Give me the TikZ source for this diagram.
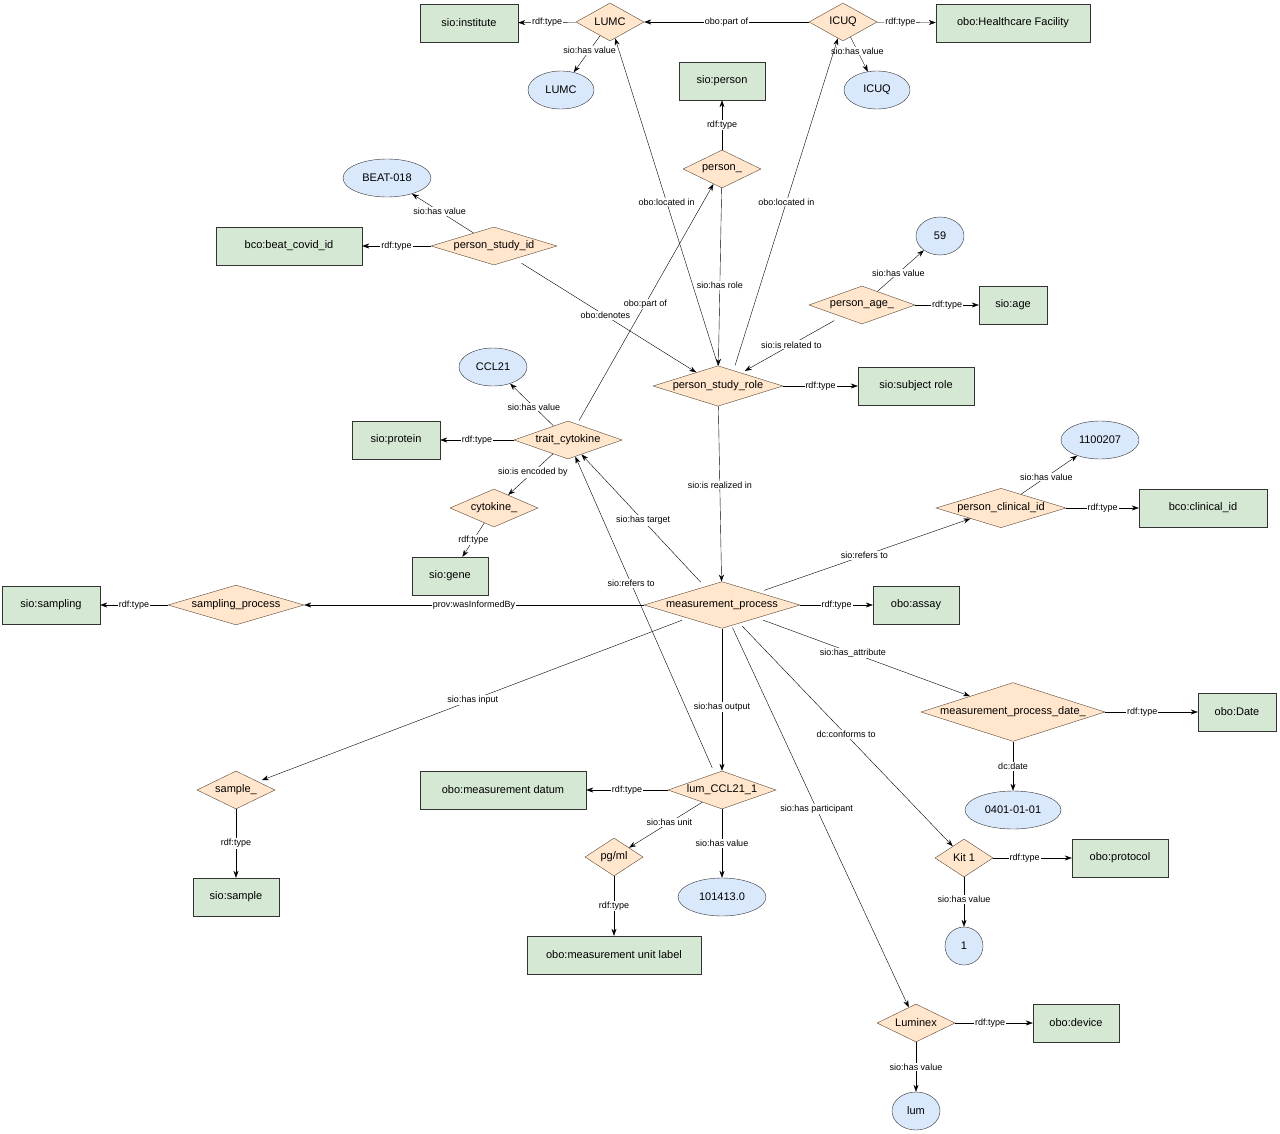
\documentclass[tikz,border=0pt]{standalone}
\usepackage{fontspec}
\setmainfont{Liberation Sans}
\usetikzlibrary{shapes.geometric,arrows.meta}
\begin{document}
\begin{tikzpicture}[x=1pt,y=-1pt,
 R/.style={draw=black!80,fill=green!10!gray!20!white,fill={rgb,255:red,213;green,232;blue,212},minimum height=38pt,inner sep=0pt,font=\fontsize{11}{13}\selectfont},
 D/.style={diamond,aspect=3,draw={rgb,255:red,90;green,70;blue,50},fill={rgb,255:red,255;green,230;blue,204},minimum height=38pt,inner sep=0pt,font=\fontsize{11}{13}\selectfont},
 E/.style={ellipse,draw=black!80,fill={rgb,255:red,218;green,232;blue,252},minimum height=38pt,inner sep=0pt,font=\fontsize{11}{13}\selectfont},
 a/.style={-{Stealth[length=7pt,width=5pt]},black},
 l/.style={fill=white,inner sep=1pt,font=\fontsize{9}{10}\selectfont}]
\useasboundingbox (0,0) rectangle (1280,1134);
\node[R,minimum width=98pt] (inst) at (469,23) {sio:institute};
\node[D,minimum width=68pt] (lumc) at (610,22) {LUMC};
\node[D,minimum width=68pt] (icuq) at (843,22) {ICUQ};
\node[R,minimum width=154pt] (hf) at (1013,23) {obo:Healthcare Facility};
\node[E,minimum width=66pt] (lumcv) at (561,90) {LUMC};
\node[E,minimum width=66pt] (icuqv) at (877,90) {ICUQ};
\node[R,minimum width=86pt] (person) at (722,81) {sio:person};
\node[D,minimum width=78pt] (p) at (722,169) {person\_};
\node[E,minimum width=88pt] (beat) at (387,178) {BEAT-018};
\node[R,minimum width=146pt] (bcid) at (289,246) {bco:beat\_covid\_id};
\node[D,minimum width=126pt] (psid) at (494,246) {person\_study\_id};
\node[E,minimum width=48pt] (v59) at (940,236) {59};
\node[D,minimum width=106pt] (page) at (862,305) {person\_age\_};
\node[R,minimum width=68pt] (age) at (1013,305) {sio:age};
\node[D,minimum width=130pt] (psr) at (718,386) {person\_study\_role};
\node[R,minimum width=116pt] (subj) at (916,386) {sio:subject role};
\node[E,minimum width=68pt] (ccl) at (493,367) {CCL21};
\node[R,minimum width=88pt] (prot) at (396,440) {sio:protein};
\node[D,minimum width=108pt] (tc) at (568,440) {trait\_cytokine};
\node[D,minimum width=88pt] (cyt) at (494,508) {cytokine\_};
\node[R,minimum width=76pt] (gene) at (450,576) {sio:gene};
\node[E,minimum width=78pt] (v1100) at (1100,440) {1100207};
\node[D,minimum width=130pt] (pcid) at (1001,508) {person\_clinical\_id};
\node[R,minimum width=128pt] (clid) at (1203,508) {bco:clinical\_id};
\node[R,minimum width=98pt] (samp) at (51,605) {sio:sampling};
\node[D,minimum width=136pt] (sp) at (236,605) {sampling\_process};
\node[D,minimum width=156pt] (mp) at (722,605) {measurement\_process};
\node[R,minimum width=86pt] (assay) at (916,605) {obo:assay};
\node[D,minimum width=184pt] (mpd) at (1013,712) {measurement\_process\_date\_};
\node[R,minimum width=78pt] (date) at (1237,712) {obo:Date};
\node[E,minimum width=96pt] (d0401) at (1013,810) {0401-01-01};
\node[D,minimum width=78pt] (s) at (236,790) {sample\_};
\node[R,minimum width=86pt] (sample) at (236,897) {sio:sample};
\node[R,minimum width=166pt] (md) at (503,790) {obo:measurement datum};
\node[D,minimum width=108pt] (lum) at (722,790) {lum\_CCL21\_1};
\node[D,minimum width=58pt] (pg) at (614,857) {pg/ml};
\node[E,minimum width=88pt] (v101) at (722,897) {101413.0};
\node[R,minimum width=174pt] (mul) at (614,955) {obo:measurement unit label};
\node[D,minimum width=58pt] (kit) at (964,858) {Kit 1};
\node[R,minimum width=96pt] (protc) at (1120,858) {obo:protocol};
\node[E,minimum width=38pt] (one) at (964,946) {1};
\node[D,minimum width=78pt] (lx) at (916,1023) {Luminex};
\node[R,minimum width=86pt] (dev) at (1076,1023) {obo:device};
\node[E,minimum width=48pt] (lumv) at (916,1111) {lum};

\draw[a] (lumc) -- node[l]{rdf:type} (inst);
\draw[a] (lumc) -- node[l,pos=0.4]{sio:has value} (lumcv);
\draw[a] (icuq) -- node[l]{obo:part of} (lumc);
\draw[a] (icuq) -- node[l,pos=0.4]{rdf:type} (hf);
\draw[a] (icuq) -- node[l,pos=0.4]{sio:has value} (icuqv);
\draw[a] (p) -- node[l]{rdf:type} (person);
\draw[a] (p) -- node[l,pos=0.55]{sio:has role} (psr);
\draw[a] (psr.north) -- node[l,pos=0.5]{obo:located in} (lumc);
\draw[a] ([xshift=17pt]psr.north) -- node[l,pos=0.5]{obo:located in} (icuq);
\draw[a] (psid) -- node[l]{rdf:type} (bcid);
\draw[a] (psid) -- node[l,pos=0.55]{sio:has value} (beat);
\draw[a,shorten <=8pt] (psid) -- node[l,pos=0.5]{obo:denotes} (psr);
\draw[a,shorten <=4pt] (tc) -- node[l,pos=0.5]{obo:part of} (p);
\draw[a] (page) -- node[l,pos=0.45]{sio:has value} (v59);
\draw[a] (page) -- node[l]{rdf:type} (age);
\draw[a,shorten <=8pt,shorten >=4pt] (page) -- node[l,pos=0.5]{sio:is related to} (psr);
\draw[a] (psr) -- node[l]{rdf:type} (subj);
\draw[a] (psr) -- node[l,pos=0.45]{sio:is realized in} (mp);
\draw[a] (tc) -- node[l,pos=0.45]{sio:has value} (ccl);
\draw[a] (tc) -- node[l]{rdf:type} (prot);
\draw[a] (tc) -- node[l,pos=0.45]{sio:is encoded by} (cyt);
\draw[a] (cyt) -- node[l,pos=0.5]{rdf:type} (gene);
\draw[a,shorten <=6pt] (mp) -- node[l,pos=0.5]{sio:has target} (tc);
\draw[a,shorten <=6pt] (lum) -- node[l,pos=0.6]{sio:refers to} (tc);
\draw[a,shorten <=6pt] (mp) -- node[l,pos=0.5]{sio:refers to} (pcid);
\draw[a] (pcid) -- node[l,pos=0.45]{sio:has value} (v1100);
\draw[a] (pcid) -- node[l]{rdf:type} (clid);
\draw[a] (mp) -- node[l,pos=0.5]{prov:wasInformedBy} (sp);
\draw[a] (sp) -- node[l]{rdf:type} (samp);
\draw[a] (mp) -- node[l]{rdf:type} (assay);
\draw[a,shorten <=6pt] (mp) -- node[l,pos=0.45]{sio:has\_attribute} (mpd);
\draw[a] (mpd) -- node[l,pos=0.4]{rdf:type} (date);
\draw[a] (mpd) -- node[l]{dc:date} (d0401);
\draw[a,shorten <=6pt,shorten >=4pt] (mp) -- node[l,pos=0.5]{sio:has input} (s);
\draw[a] (s) -- node[l]{rdf:type} (sample);
\draw[a] (mp) -- node[l,pos=0.55]{sio:has output} (lum);
\draw[a] (lum) -- node[l]{rdf:type} (md);
\draw[a] (lum) -- node[l,pos=0.45]{sio:has unit} (pg);
\draw[a] (lum) -- node[l,pos=0.5]{sio:has value} (v101);
\draw[a] (pg) -- node[l,pos=0.5]{rdf:type} (mul);
\draw[a,shorten <=4pt] (mp) -- node[l,pos=0.5]{dc:conforms to} (kit);
\draw[a] (kit) -- node[l,pos=0.4]{rdf:type} (protc);
\draw[a] (kit) -- node[l,pos=0.45]{sio:has value} (one);
\draw[a,shorten <=2pt] (mp) -- node[l,pos=0.48]{sio:has participant} (lx);
\draw[a] (lx) -- node[l,pos=0.45]{rdf:type} (dev);
\draw[a] (lx) -- node[l,pos=0.5]{sio:has value} (lumv);
\end{tikzpicture}
\end{document}
